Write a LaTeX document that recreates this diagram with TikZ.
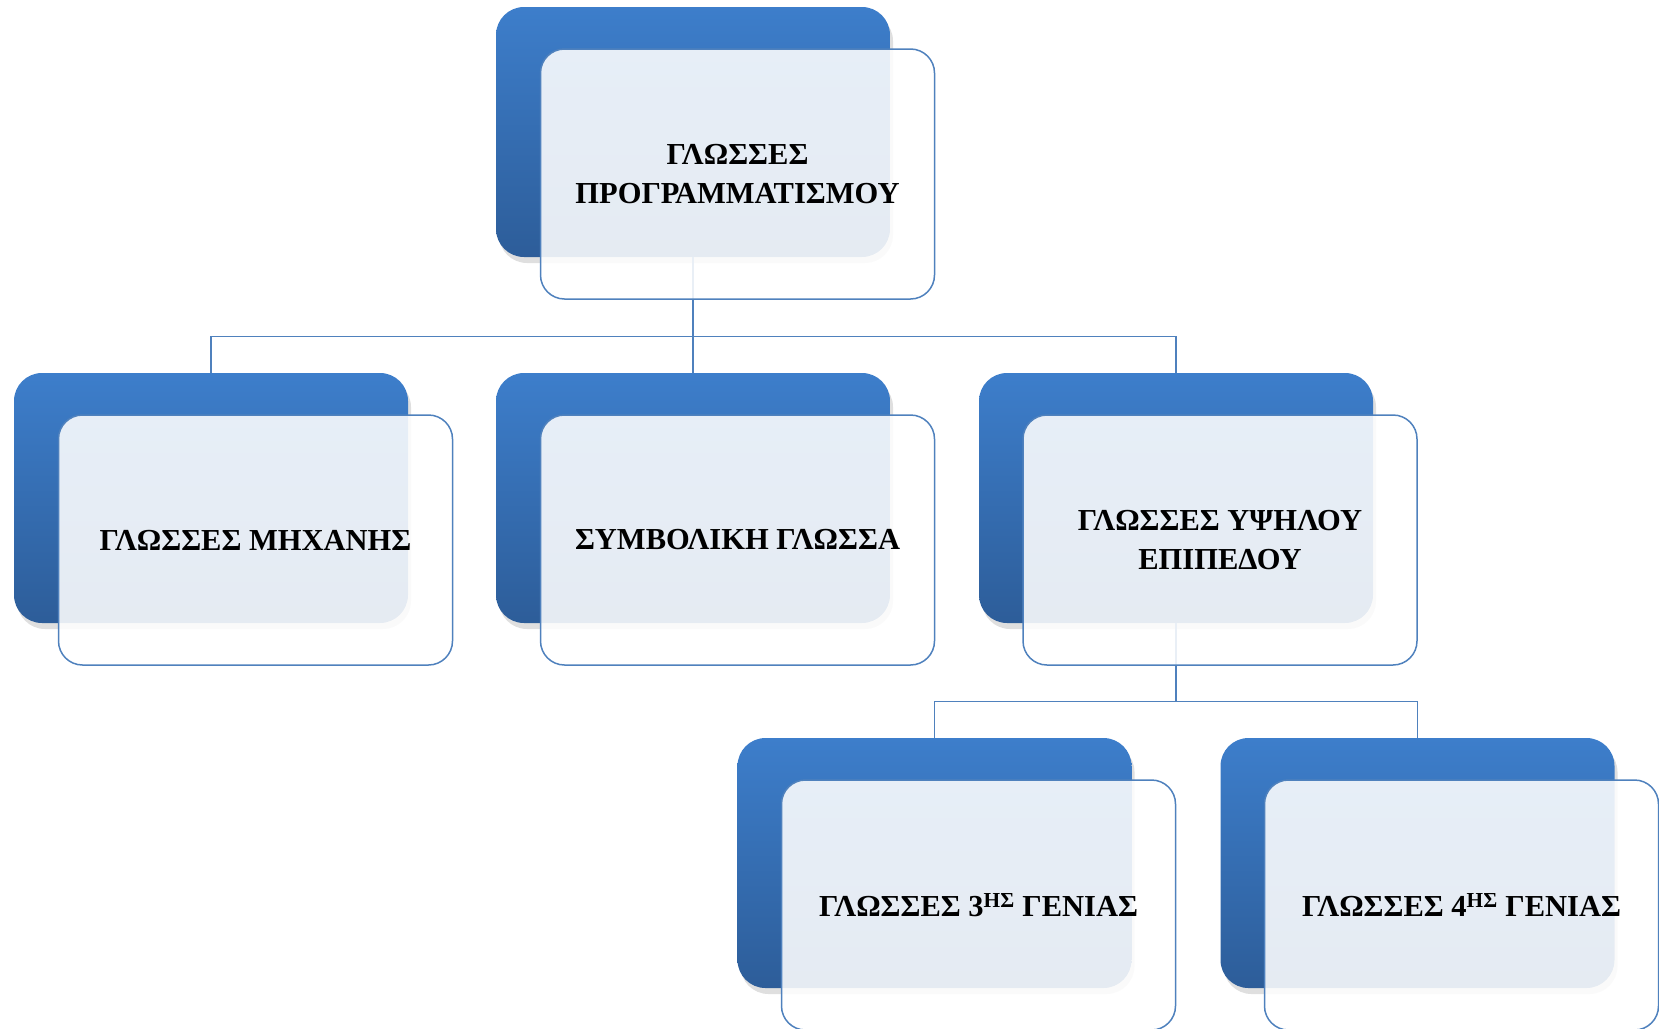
\documentclass[tikz,border=0pt]{standalone}
\usepackage{fontspec}
\setmainfont{Liberation Serif}
\usetikzlibrary{positioning, calc, shadows}
\definecolor{tiletop}{HTML}{3D7ECB}
\definecolor{tilebottom}{HTML}{2D5D99}
\definecolor{edgeblue}{HTML}{4F81BD}

\begin{document}
\begin{tikzpicture}[
  x=1pt, y=1pt,
  backtile/.style={
    rectangle,
    rounded corners=28pt,
    minimum width=394pt,
    minimum height=250pt,
    top color=tiletop,
    bottom color=tilebottom,
    draw=none,
    drop shadow={shadow xshift=3pt, shadow yshift=-6pt, opacity=0.25}
  },
  fronttile/.style={
    rectangle,
    rounded corners=24pt,
    minimum width=394pt,
    minimum height=250pt,
    draw=edgeblue,
    line width=1.5pt,
    fill=white,
    fill opacity=0.88,
    text opacity=1,
    align=center,
    font=\fontsize{30.5}{39}\selectfont\bfseries
  },
  link/.style={
    draw=edgeblue,
    line width=1.4pt
  }
]

\useasboundingbox (0,0) rectangle (1659,-1028);

% Back tiles
\node[backtile] (progB) at (693,-132)   {};
\node[backtile] (machB) at (211,-498)   {};
\node[backtile] (symbB) at (693,-498)   {};
\node[backtile] (highB) at (1176,-498)  {};
\node[backtile] (gen3B) at (934.5,-863) {};
\node[backtile] (gen4B) at (1417.5,-863) {};

% Connectors (behind the front tiles)
\draw[link] (progB.south) -- ++(0,-79) -| (machB.north);
\draw[link] (progB.south) -- ++(0,-79) -| (symbB.north);
\draw[link] (progB.south) -- ++(0,-79) -| (highB.north);

\draw[link] (highB.south) -- ++(0,-78) -| (gen3B.north);
\draw[link] (highB.south) -- ++(0,-78) -| (gen4B.north);

% Front tiles
\node[fronttile] (prog) at (737.5,-174)  {ΓΛΩΣΣΕΣ\\ΠΡΟΓΡΑΜΜΑΤΙΣΜΟΥ};
\node[fronttile] (mach) at (255.5,-540)  {ΓΛΩΣΣΕΣ ΜΗΧΑΝΗΣ};
\node[fronttile] (symb) at (737.5,-540)  {ΣΥΜΒΟΛΙΚΗ ΓΛΩΣΣΑ};
\node[fronttile] (high) at (1220,-540)   {ΓΛΩΣΣΕΣ ΥΨΗΛΟΥ\\ΕΠΙΠΕΔΟΥ};
\node[fronttile] (gen3) at (978.5,-905)  {ΓΛΩΣΣΕΣ 3\textsuperscript{ΗΣ} ΓΕΝΙΑΣ};
\node[fronttile] (gen4) at (1461.5,-905) {ΓΛΩΣΣΕΣ 4\textsuperscript{ΗΣ} ΓΕΝΙΑΣ};

\end{tikzpicture}
\end{document}
